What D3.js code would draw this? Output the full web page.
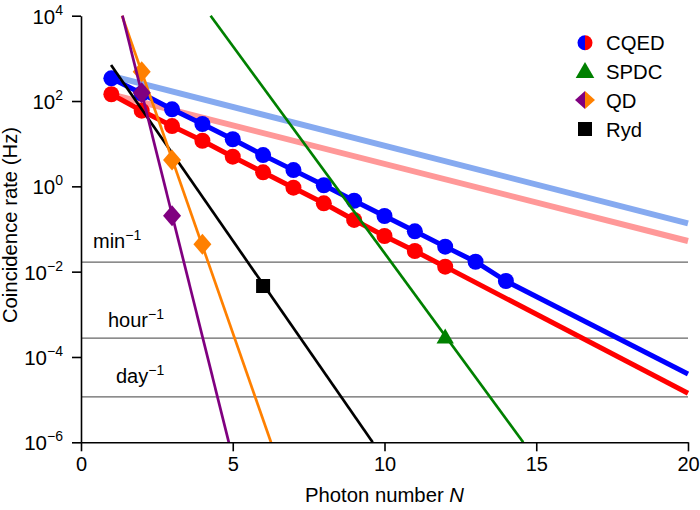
<!DOCTYPE html>
<html><head><meta charset="utf-8">
<script src="https://cdn.jsdelivr.net/npm/d3@7"></script>
<style>body{margin:0;background:#fff}text{font-family:"Liberation Sans",Arial,sans-serif;fill:#000}</style>
</head><body><svg id="c" width="700" height="510"></svg>
<script>
// ---- data ----
const cqedBlue = [[1,341],[2,150],[3,64],[4,28.9],[5,12.7],[6,5.4],[7,2.4],[8,1.06],[9,0.46],[10,0.202],[11,0.0883],[12,0.0386],[13,0.0171],[14,0.00604]];
const cqedBlueExt = [[14,0.00604],[20,4.0e-5]];
const cqedRed = [[1,144],[2,59.3],[3,25.9],[4,11.7],[5,4.95],[6,2.13],[7,0.93],[8,0.40],[9,0.163],[10,0.0686],[11,0.0305],[12,0.0131]];
const cqedRedExt = [[12,0.0131],[20,1.41e-5]];
const lightBlue = [[1,390],[20,0.136]];
const lightRed = [[1,142],[20,0.0524]];
const qdPurple = [[2,157],[3,0.205]];
const qdPurpleFit = [[1.365,1e4],[4.87,1e-6]];
const qdOrange = [[2,486],[3,4.14],[4,0.0438]];
const qdOrangeFit = [[1.353,1e4],[6.26,1e-6]];
const ryd = [[6,0.00461]];
const rydFit = [[0.99,700],[9.61,1e-6]];
const spdc = [[12,2.7e-4]];
const spdcFit = [[4.27,1e4],[14.57,1e-6]];
const refLines = [{label:"min",v:1/60},{label:"hour",v:1/3600},{label:"day",v:1/86400}];
const xTicks = [0,5,10,15,20];
const yTickExp = [4,2,0,-2,-4,-6];
const legendItems = ["CQED","SPDC","QD","Ryd"];

// ---- layout ----
const svg = d3.select("#c");
const x = d3.scaleLinear().domain([0,20]).range([81,688]);
const y = d3.scaleLog().domain([1e-6,1e4]).range([442.3,15.7]);
const line = d3.line().x(d=>x(d[0])).y(d=>y(d[1]));

// reference lines
const ref = svg.append("g");
refLines.forEach((r,i)=>{
  ref.append("line").attr("x1",x(0)).attr("x2",x(20)).attr("y1",y(r.v)).attr("y2",y(r.v))
    .attr("stroke","#666").attr("stroke-width",1.2);
});
const refLabelPos = [[93,248],[108,327],[116,383]];
refLines.forEach((r,i)=>{
  const t = ref.append("text").attr("x",refLabelPos[i][0]).attr("y",refLabelPos[i][1]).attr("font-size",20);
  t.append("tspan").text(r.label);
  t.append("tspan").attr("font-size",14).attr("dy",-8).text("\u22121");
});

// light lines
svg.append("path").attr("d",line(lightBlue)).attr("stroke","#86aaf0").attr("stroke-width",6).attr("fill","none");
svg.append("path").attr("d",line(lightRed)).attr("stroke","#ff9898").attr("stroke-width",6).attr("fill","none");

// CQED red
svg.append("path").attr("d",line(cqedRed)).attr("stroke","#ff0000").attr("stroke-width",5).attr("fill","none");
svg.append("path").attr("d",line(cqedRedExt)).attr("stroke","#ff0000").attr("stroke-width",5).attr("fill","none");
svg.selectAll(".rd").data(cqedRed).enter().append("circle").attr("cx",d=>x(d[0])).attr("cy",d=>y(d[1])).attr("r",8).attr("fill","#ff0000");
// CQED blue
svg.append("path").attr("d",line(cqedBlue)).attr("stroke","#0000ff").attr("stroke-width",5).attr("fill","none");
svg.append("path").attr("d",line(cqedBlueExt)).attr("stroke","#0000ff").attr("stroke-width",5).attr("fill","none");
svg.selectAll(".bd").data(cqedBlue).enter().append("circle").attr("cx",d=>x(d[0])).attr("cy",d=>y(d[1])).attr("r",8).attr("fill","#0000ff");

// Rydberg
svg.append("path").attr("d",line(rydFit)).attr("stroke","#000").attr("stroke-width",2.7).attr("fill","none");
svg.selectAll(".ry").data(ryd).enter().append("rect").attr("x",d=>x(d[0])-7).attr("y",d=>y(d[1])-7).attr("width",14).attr("height",14).attr("fill","#000");

// SPDC
svg.append("path").attr("d",line(spdcFit)).attr("stroke","#008000").attr("stroke-width",2.7).attr("fill","none");
const tri = d3.symbol().type(d3.symbolTriangle).size(130);
svg.selectAll(".sp").data(spdc).enter().append("path").attr("d",tri).attr("transform",d=>`translate(${x(d[0])},${y(d[1])})`).attr("fill","#008000");

// QD orange
const diamond = "M0,-10.5L9,0L0,10.5L-9,0Z";
svg.append("path").attr("d",line(qdOrangeFit)).attr("stroke","#ff8000").attr("stroke-width",2.7).attr("fill","none");
svg.selectAll(".qo").data(qdOrange).enter().append("path").attr("d",diamond).attr("transform",d=>`translate(${x(d[0])},${y(d[1])})`).attr("fill","#ff8000");
// QD purple
svg.append("path").attr("d",line(qdPurpleFit)).attr("stroke","#800080").attr("stroke-width",2.7).attr("fill","none");
svg.selectAll(".qp").data(qdPurple).enter().append("path").attr("d",diamond).attr("transform",d=>`translate(${x(d[0])},${y(d[1])})`).attr("fill","#800080");

// axes
const xa = svg.append("g").attr("transform","translate(0,442.3)")
  .call(d3.axisBottom(x).tickValues(xTicks).tickSize(9).tickSizeOuter(0).tickPadding(6));
xa.selectAll("text").attr("font-size",20).attr("font-family","Liberation Sans, Arial, sans-serif").attr("fill","#000");
const ya = svg.append("g").attr("transform","translate(81,0)")
  .call(d3.axisLeft(y).tickValues(yTickExp.map(e=>Math.pow(10,e))).tickSize(9).tickSizeOuter(0).tickPadding(5).tickFormat(""));
[xa,ya].forEach(a=>{a.select(".domain").attr("stroke","#000").attr("stroke-width",1.6);a.selectAll(".tick line").attr("stroke","#000").attr("stroke-width",1.6);});
ya.selectAll(".tick").each(function(d){
  const e = Math.round(Math.log10(d));
  const t = d3.select(this).select("text").attr("font-size",20.5).attr("font-family","Liberation Sans, Arial, sans-serif").attr("fill","#000").attr("x",-18).attr("dy","0.36em");
  t.text(null);
  t.append("tspan").text("10");
  t.append("tspan").attr("font-size",14).attr("dy",-9).text(String(e).replace("-","\u2212"));
});

// axis titles
const xt = svg.append("text").attr("x",384.5).attr("y",502).attr("text-anchor","middle").attr("font-size",20.3);
xt.append("tspan").text("Photon number ");
xt.append("tspan").attr("font-style","italic").text("N");
svg.append("text").attr("transform","translate(17,225) rotate(-90)").attr("text-anchor","middle").attr("font-size",20.3).text("Coincidence rate (Hz)");

// legend
const lg = svg.append("g");
const ly = [42.7,71.7,100,129];
lg.append("path").attr("d",`M585,${ly[0]-7.5}A7.5,7.5 0 0 0 585,${ly[0]+7.5}Z`).attr("fill","#0000ff");
lg.append("path").attr("d",`M585,${ly[0]-7.5}A7.5,7.5 0 0 1 585,${ly[0]+7.5}Z`).attr("fill","#ff0000");
lg.append("path").attr("d",d3.symbol().type(d3.symbolTriangle).size(150)).attr("transform",`translate(585,${ly[1]+1})`).attr("fill","#008000");
lg.append("path").attr("d","M0,-9L0,9L-10,0Z").attr("transform",`translate(585,${ly[2]})`).attr("fill","#800080");
lg.append("path").attr("d","M0,-9L0,9L10,0Z").attr("transform",`translate(585,${ly[2]})`).attr("fill","#ff8000");
lg.append("rect").attr("x",578).attr("y",ly[3]-7).attr("width",14).attr("height",14).attr("fill","#000");
legendItems.forEach((s,i)=>{
  lg.append("text").attr("x",606).attr("y",ly[i]+7.5).attr("font-size",20.3).text(s);
});
</script></body></html>
